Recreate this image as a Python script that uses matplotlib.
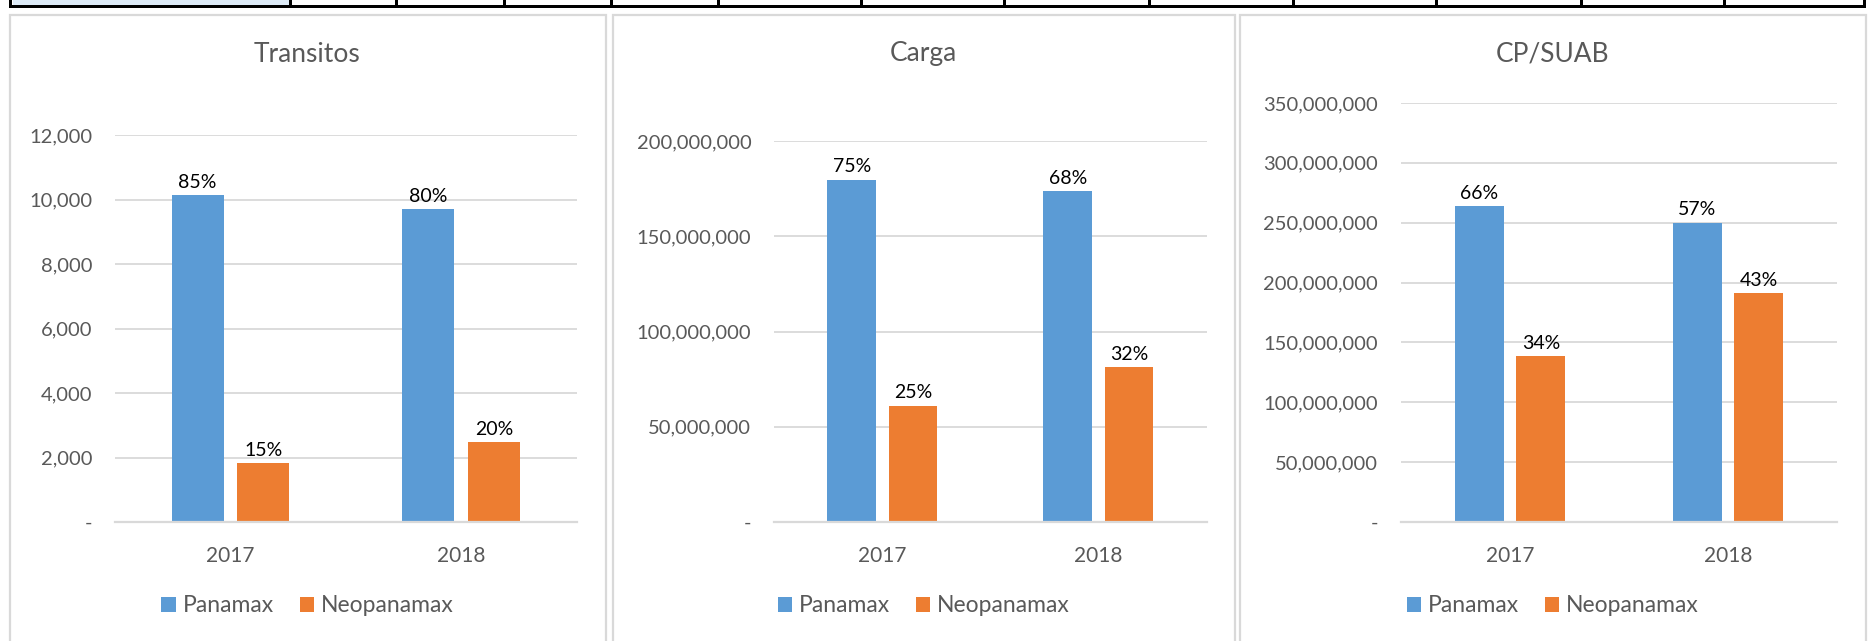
import matplotlib
matplotlib.use("Agg")
import matplotlib.pyplot as plt
import matplotlib.patches as patches
from matplotlib.ticker import FuncFormatter, MultipleLocator

plt.rcParams['font.family'] = ['Lato', 'DejaVu Sans']

# data
years = ['2017', '2018']
series_names = ['Panamax', 'Neopanamax']

transitos_panamax = [10150, 9710]
transitos_neopanamax = [1820, 2490]
transitos_pct_panamax = ['85%', '80%']
transitos_pct_neopanamax = ['15%', '20%']

carga_panamax = [179.8e6, 173.8e6]
carga_neopanamax = [61.1e6, 81.2e6]
carga_pct_panamax = ['75%', '68%']
carga_pct_neopanamax = ['25%', '32%']

cpsuab_panamax = [263.7e6, 250.1e6]
cpsuab_neopanamax = [138.5e6, 191.1e6]
cpsuab_pct_panamax = ['66%', '57%']
cpsuab_pct_neopanamax = ['34%', '43%']

BLUE = '#5B9BD5'
ORANGE = '#ED7D31'
GRID = '#D9D9D9'
TEXT = '#595959'

W, H = 1868, 641
fig = plt.figure(figsize=(W / 100, H / 100), dpi=100)
fig.patch.set_facecolor('white')


def px_axes(x0, y0, x1, y1):
    # pixel box (top-left origin) -> figure fraction
    return [x0 / W, 1 - y1 / H, (x1 - x0) / W, (y1 - y0) / H]


# background layer: table strip at top and chart frames
bg = fig.add_axes([0, 0, 1, 1], zorder=-5)
bg.set_xlim(0, W)
bg.set_ylim(H, 0)
bg.axis('off')

bg.add_patch(patches.Rectangle((12.7, 0), 276, 4.7, facecolor='#DDEBF7', edgecolor='none'))
bg.add_patch(patches.Rectangle((9, 4.5), 1857, 3.0, facecolor='black', edgecolor='none'))
for xl in [9, 288.7, 395, 502.5, 610, 717, 860, 1003, 1148, 1291.7, 1434.5, 1579.5, 1722.5, 1862.7]:
    bg.add_patch(patches.Rectangle((xl, 0), 3.3, 7.5, facecolor='black', edgecolor='none'))

frames = [(9.5, 605.5), (612.5, 1235), (1240, 1865.5)]
for fx0, fx1 in frames:
    bg.add_patch(patches.Rectangle((fx0, 14.5), fx1 - fx0, 700, facecolor='white',
                                   edgecolor=GRID, lw=1.6))

panels = [
    dict(title='Transitos', pan=transitos_panamax, neo=transitos_neopanamax,
         lp=transitos_pct_panamax, ln=transitos_pct_neopanamax,
         ymax=12000, step=2000, box=(115, 135.3, 576.5, 522), frame=frames[0]),
    dict(title='Carga', pan=carga_panamax, neo=carga_neopanamax,
         lp=carga_pct_panamax, ln=carga_pct_neopanamax,
         ymax=200e6, step=50e6, box=(774.3, 141.2, 1206.5, 522), frame=frames[1]),
    dict(title='CP/SUAB', pan=cpsuab_panamax, neo=cpsuab_neopanamax,
         lp=cpsuab_pct_panamax, ln=cpsuab_pct_neopanamax,
         ymax=350e6, step=50e6, box=(1401, 103, 1837, 522), frame=frames[2]),
]


def fmt(v, pos):
    if abs(v) < 1e-9:
        return '-'
    return f'{v:,.0f}'


bw = 0.225
off = 0.142
for p in panels:
    ax = fig.add_axes(px_axes(*p['box']))
    x = range(len(years))
    b1 = ax.bar([i - off for i in x], p['pan'], bw, color=BLUE, label=series_names[0], zorder=3)
    b2 = ax.bar([i + off for i in x], p['neo'], bw, color=ORANGE, label=series_names[1], zorder=3)
    for bars, labs in [(b1, p['lp']), (b2, p['ln'])]:
        for r, lab in zip(bars, labs):
            ax.annotate(lab, (r.get_x() + r.get_width() / 2, r.get_height()),
                        xytext=(0, 3), textcoords='offset points', ha='center', va='bottom',
                        fontsize=14, color='black', zorder=4)
    ax.set_xlim(-0.5, 1.5)
    ax.set_ylim(0, p['ymax'])
    ax.yaxis.set_major_locator(MultipleLocator(p['step']))
    ax.yaxis.set_major_formatter(FuncFormatter(fmt))
    ax.set_xticks(list(x))
    ax.set_xticklabels(years)
    ax.tick_params(axis='y', length=0, pad=16.5, labelsize=14.5, labelcolor=TEXT)
    ax.tick_params(axis='x', length=0, pad=17, labelsize=15, labelcolor=TEXT)
    ax.yaxis.grid(True, color=GRID, lw=1.3, zorder=0)
    for s in ['top', 'left', 'right']:
        ax.spines[s].set_visible(False)
    ax.spines['bottom'].set_color(GRID)
    ax.spines['bottom'].set_linewidth(1.6)
    ax.spines['bottom'].set_zorder(5)
    ax.set_facecolor('none')

    fx0, fx1 = p['frame']
    cx = (fx0 + fx1) / 2 / W
    fig.text(cx, 1 - 54 / H, p['title'], ha='center', va='center', fontsize=19, color=TEXT)
    fig.legend(handles=[b1, b2], labels=series_names, loc='center',
               bbox_to_anchor=(cx, 1 - 606 / H), ncol=2, frameon=False,
               fontsize=16.5, labelcolor=TEXT, handlelength=0.62, handleheight=0.62,
               handletextpad=0.3, columnspacing=1.15, borderaxespad=0)

fig.savefig('out.png', dpi=100, facecolor='white')
